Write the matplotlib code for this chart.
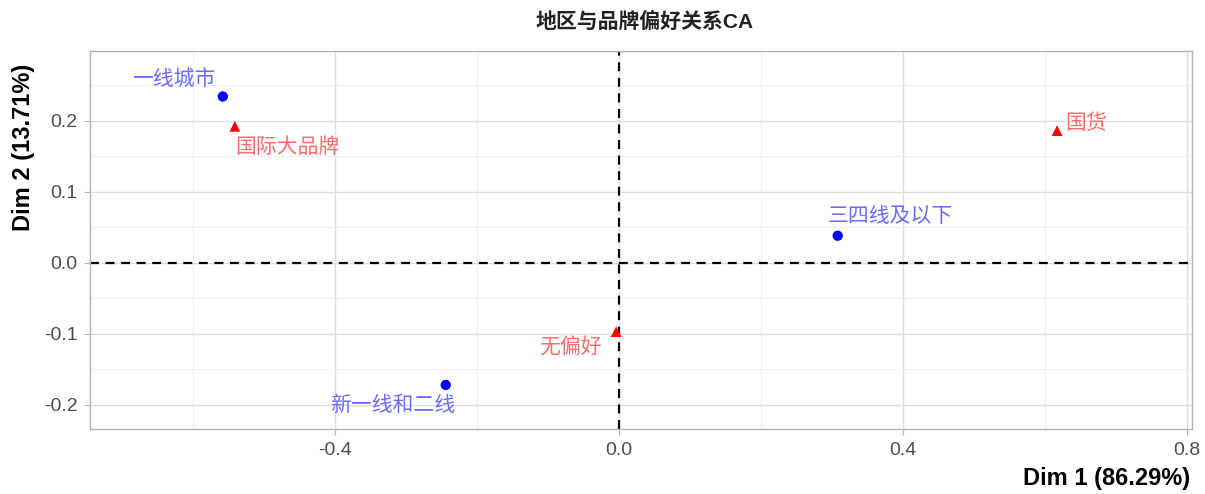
import matplotlib
matplotlib.use('Agg')
import matplotlib.pyplot as plt
from matplotlib.ticker import MultipleLocator

plt.rcParams['font.family'] = ['Liberation Sans', 'Noto Sans CJK SC', 'DejaVu Sans']

# CA 坐标
row_names = ['一线城市', '三四线及以下', '新一线和二线']
row_dim1 = [-0.558, 0.308, -0.244]
row_dim2 = [0.234, 0.038, -0.172]

col_names = ['国际大品牌', '国货', '无偏好']
col_dim1 = [-0.541, 0.617, -0.004]
col_dim2 = [0.192, 0.186, -0.097]

title = '地区与品牌偏好关系CA'
xlab = 'Dim 1 (86.29%)'
ylab = 'Dim 2 (13.71%)'

# 标签偏移（像素）
row_off = [(-49, 17), (53, 19), (-53, -20)]
col_off = [(53, -21), (29, 7), (-46, -16)]

fig = plt.figure(figsize=(12.05, 4.94), dpi=100)
ax = fig.add_axes([90 / 1205, 65 / 494, 1102 / 1205, 378 / 494])

ax.set_xlim(-0.745, 0.807)
ax.set_ylim(-0.234, 0.298)
ax.xaxis.set_major_locator(MultipleLocator(0.4))
ax.xaxis.set_minor_locator(MultipleLocator(0.2))
ax.yaxis.set_major_locator(MultipleLocator(0.1))
ax.yaxis.set_minor_locator(MultipleLocator(0.05))
ax.grid(which='major', color='#dedede', lw=1.0)
ax.grid(which='minor', color='#efefef', lw=0.8)
ax.set_axisbelow(True)
for s in ax.spines.values():
    s.set_color('#b3b3b3')
    s.set_linewidth(1.0)
ax.tick_params(which='major', length=4, color='#b3b3b3', labelsize=14,
               labelcolor='#4d4d4d', pad=5)
ax.tick_params(which='minor', length=0)
ax.xaxis.set_major_formatter(lambda v, p: f'{v:.1f}')
ax.yaxis.set_major_formatter(lambda v, p: f'{v:.1f}')

ax.axhline(0, color='black', ls=(0, (4, 3)), lw=1.6, zorder=1)
ax.axvline(0, color='black', ls=(0, (4, 3)), lw=1.6, zorder=1)

ax.scatter(row_dim1, row_dim2, s=55, color='blue', marker='o', zorder=3,
           edgecolors='none')
ax.scatter(col_dim1, col_dim2, s=60, color='red', marker='^', zorder=3,
           edgecolors='none')

for name, x, y, off in zip(row_names, row_dim1, row_dim2, row_off):
    ax.annotate(name, (x, y), xytext=off, textcoords='offset pixels',
                ha='center', va='center', fontsize=15, color='#6a6aff')
for name, x, y, off in zip(col_names, col_dim1, col_dim2, col_off):
    ax.annotate(name, (x, y), xytext=off, textcoords='offset pixels',
                ha='center', va='center', fontsize=15, color='#ff6a6a')

fig.text(645 / 1205, 1 - 22 / 494, title, ha='center', va='center',
         fontsize=15, fontweight='bold', color='#222222')
fig.text(1190 / 1205, 1 - 478 / 494, xlab, ha='right', va='center',
         fontsize=17, fontweight='bold')
fig.text(24 / 1205, 1 - 147 / 494, ylab, ha='center', va='center',
         rotation=90, fontsize=17, fontweight='bold')

fig.savefig('out.png', dpi=100)
